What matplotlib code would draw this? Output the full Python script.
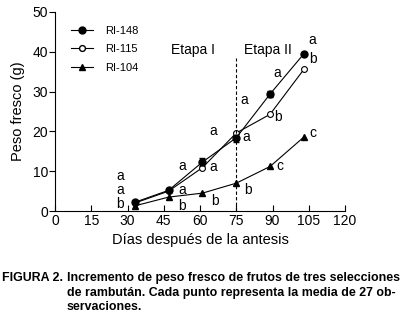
import numpy as np
import matplotlib.pyplot as plt
from matplotlib.lines import Line2D

plt.rcParams['font.family'] = ['Liberation Sans', 'DejaVu Sans']

dias = [33, 47, 61, 75, 89, 103]
ri148 = [2.2, 5.2, 12.3, 18.4, 29.4, 39.5]
ri148_err = [0.2, 0.3, 1.1, 1.1, 0.7, 0.4]
ri115 = [2.0, 5.0, 10.9, 19.6, 24.3, 35.6]
ri104 = [1.3, 3.5, 4.5, 7.0, 11.2, 18.6]

# letras de significancia (x, y, texto)
letras = [
    (27, 8.8, 'a'), (27, 5.3, 'a'), (27, 1.7, 'b'),
    (52.5, 11.4, 'a'), (52.5, 5.2, 'a'), (52.5, 1.3, 'b'),
    (65.5, 11.0, 'a'), (66, 2.6, 'b'), (65.5, 20.0, 'a'),
    (79, 18.6, 'a'), (80, 5.3, 'b'), (78.5, 27.8, 'a'),
    (91.8, 34.6, 'a'), (92.3, 23.5, 'b'), (93, 11.2, 'c'),
    (106.3, 43.0, 'a'), (106.7, 38.3, 'b'), (106.7, 19.7, 'c'),
]

fig = plt.figure(figsize=(4.0, 3.15), dpi=100)
ax = fig.add_axes([0.1375, 0.33, 0.725, 0.632])

ax.errorbar(dias, ri148, yerr=ri148_err, color='black', marker='o', ms=5,
            mfc='black', lw=0.8, capsize=2.5, elinewidth=0.8, label='RI-148')
ax.plot(dias, ri115, color='black', marker='o', ms=4.2, mfc='white',
        mew=0.8, lw=0.8, label='RI-115')
ax.plot(dias, ri104, color='black', marker='^', ms=4.6, mfc='black',
        lw=0.8, label='RI-104')

ax.plot([75, 75], [0, 38.4], color='black', ls=(0, (3, 2)), lw=0.8)
ax.text(57, 40.5, 'Etapa I', fontsize=10, ha='center', va='center')
ax.text(88.3, 40.5, 'Etapa II', fontsize=10, ha='center', va='center')

for x, y, t in letras:
    ax.text(x, y, t, fontsize=10, ha='center', va='center')

ax.set_xlim(0, 120)
ax.set_ylim(0, 50)
ax.set_xticks(range(0, 121, 15))
ax.set_yticks(range(0, 51, 10))
ax.tick_params(axis='x', direction='in', length=4, labelsize=10, pad=2)
ax.tick_params(axis='y', direction='out', length=4, labelsize=10, pad=1)
for s in ['top', 'right']:
    ax.spines[s].set_visible(False)
ax.set_xlabel('Días después de la antesis', fontsize=10.5, labelpad=4)
ax.set_ylabel('Peso fresco (g)', fontsize=10.5, labelpad=5)

handles = [
    Line2D([], [], color='black', marker='o', ms=5, lw=0.8),
    Line2D([], [], color='black', marker='o', ms=4.2, mfc='white', lw=0.8),
    Line2D([], [], color='black', marker='^', ms=4.6, lw=0.8),
]
ax.legend(handles, ['RI-148', 'RI-115', 'RI-104'], loc='upper left',
          bbox_to_anchor=(0.02, 0.98), frameon=False, fontsize=8,
          handlelength=2.0, labelspacing=0.75, handletextpad=1.1)

cap = dict(fontsize=8.9, fontweight='bold', va='center')
fig.text(0.005, 0.118, 'FIGURA 2.', **cap)
fig.text(0.167, 0.118, 'Incremento de peso fresco de frutos de tres selecciones', **cap)
fig.text(0.167, 0.071, 'de rambután. Cada punto representa la media de 27 ob-', **cap)
fig.text(0.167, 0.026, 'servaciones.', **cap)

fig.savefig('out.png', dpi=100)
